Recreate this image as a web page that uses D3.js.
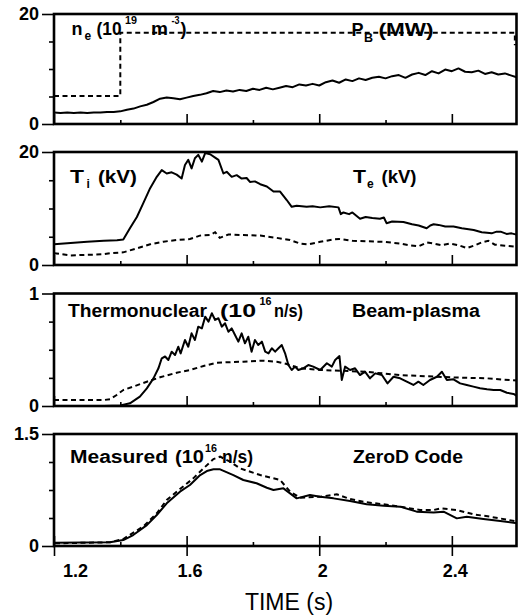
<!DOCTYPE html>
<html><head><meta charset="utf-8">
<script src="https://cdn.jsdelivr.net/npm/d3@7/dist/d3.min.js"></script>
<style>
body{margin:0;background:#fff;}
svg{display:block;}
</style></head><body>
<svg id="c" width="518" height="615"></svg>
<script>
// ---------- data ----------
const timeDomain = [1.2, 2.595];
const xMajorTicks = [1.2, 1.6, 2.0, 2.4];
const xTickLabels = ["1.2", "1.6", "2", "2.4"];
const xMinorTicks = [1.4, 1.8, 2.2];
const panelMax = [20, 20, 1, 1.5];
const yTickLabels = [["0", "20"], ["0", "20"], ["0", "1"], ["0", "1.5"]];
const xAxisTitle = "TIME (s)";

// panel 1: electron density (solid) and beam power (dashed)
const neData = [[1.20,2.1],[1.22,2.0],[1.24,2.1],[1.26,2.0],[1.28,2.1],[1.30,2.0],[1.32,2.1],[1.34,2.1],[1.36,2.2],[1.38,2.2],[1.40,2.3],[1.42,2.6],[1.44,2.8],[1.46,3.2],[1.48,3.5],[1.50,4.0],[1.52,4.6],[1.54,4.8],[1.56,4.7],[1.58,4.5],[1.60,4.8],[1.62,5.1],[1.64,5.3],[1.66,5.6],[1.68,6.0],[1.70,5.8],[1.72,6.1],[1.74,5.9],[1.76,6.2],[1.78,6.0],[1.80,6.4],[1.82,6.2],[1.84,6.6],[1.86,6.3],[1.88,6.6],[1.90,6.9],[1.92,6.7],[1.94,7.2],[1.96,7.0],[1.98,7.3],[2.00,7.0],[2.02,7.6],[2.04,7.9],[2.06,7.5],[2.08,8.1],[2.10,7.8],[2.12,8.3],[2.14,8.0],[2.16,8.4],[2.18,8.6],[2.20,8.3],[2.22,8.7],[2.24,8.9],[2.26,8.4],[2.28,9.0],[2.30,9.3],[2.32,8.9],[2.34,9.6],[2.36,9.2],[2.38,9.9],[2.40,9.6],[2.42,10.1],[2.44,9.5],[2.46,9.4],[2.48,9.7],[2.50,9.1],[2.52,9.4],[2.54,9.0],[2.56,9.2],[2.58,8.8],[2.60,8.4]];
const pbData = [[1.2,5.1],[1.4,5.1],[1.4,16.6],[2.59,16.6],[2.59,14.3]];

// panel 2: ion temperature (solid) and electron temperature (dashed)
const tiData = [[1.20,3.65],[1.25,3.9],[1.30,4.1],[1.35,4.3],[1.39,4.4],[1.409,4.5],[1.429,6.5],[1.45,8.5],[1.469,10.9],[1.49,13.6],[1.51,15.6],[1.525,16.8],[1.54,16.2],[1.555,16.4],[1.57,16.0],[1.585,15.3],[1.595,17.7],[1.605,18.6],[1.615,17.1],[1.625,18.9],[1.635,19.5],[1.646,18.3],[1.656,19.8],[1.671,19.6],[1.686,19.0],[1.696,18.6],[1.711,16.2],[1.721,16.5],[1.736,15.6],[1.751,15.9],[1.766,15.3],[1.781,15.4],[1.791,14.7],[1.806,14.8],[1.822,14.3],[1.842,13.9],[1.862,13.0],[1.882,13.0],[1.902,11.5],[1.917,10.3],[1.932,10.5],[1.962,10.3],[1.98,10.4],[2.003,10.2],[2.03,10.4],[2.058,10.2],[2.065,9.0],[2.073,9.3],[2.09,9.0],[2.10,9.3],[2.123,8.2],[2.14,8.5],[2.16,8.3],[2.183,8.2],[2.195,8.4],[2.203,7.4],[2.22,7.7],[2.254,7.6],[2.28,7.2],[2.30,7.0],[2.324,6.5],[2.335,7.0],[2.345,7.2],[2.36,7.1],[2.38,6.8],[2.405,6.8],[2.43,6.5],[2.466,6.2],[2.49,5.8],[2.506,5.7],[2.52,5.6],[2.535,5.9],[2.547,5.9],[2.565,5.5],[2.58,5.6],[2.60,5.3]];
const teData = [[1.20,2.1],[1.25,1.7],[1.30,1.8],[1.35,1.9],[1.369,2.07],[1.409,2.24],[1.45,2.95],[1.49,3.66],[1.53,4.13],[1.57,4.42],[1.61,4.6],[1.64,5.2],[1.671,5.3],[1.686,5.8],[1.70,4.8],[1.726,5.4],[1.771,5.3],[1.822,5.2],[1.872,4.8],[1.912,4.42],[1.942,3.8],[1.967,3.66],[2.003,4.1],[2.04,4.5],[2.06,4.6],[2.10,4.3],[2.14,4.2],[2.194,4.1],[2.244,3.8],[2.27,3.5],[2.30,3.3],[2.325,4.0],[2.345,3.8],[2.37,3.5],[2.395,3.8],[2.42,3.5],[2.445,3.0],[2.47,3.5],[2.49,4.0],[2.51,4.3],[2.53,3.6],[2.56,3.4],[2.60,3.2]];

// panel 3: thermonuclear (solid) and beam-plasma (dashed) neutron rate
const thermoData = [[1.20,0],[1.35,0],[1.40,0.005],[1.429,0.024],[1.459,0.083],[1.48,0.157],[1.50,0.246],[1.515,0.335],[1.525,0.424],[1.535,0.44],[1.545,0.409],[1.555,0.483],[1.565,0.453],[1.575,0.527],[1.582,0.468],[1.595,0.587],[1.605,0.527],[1.615,0.646],[1.625,0.587],[1.635,0.705],[1.646,0.69],[1.656,0.794],[1.666,0.75],[1.676,0.824],[1.686,0.765],[1.696,0.78],[1.706,0.705],[1.716,0.735],[1.726,0.66],[1.736,0.69],[1.746,0.631],[1.756,0.572],[1.766,0.646],[1.776,0.557],[1.786,0.616],[1.796,0.483],[1.806,0.587],[1.816,0.542],[1.827,0.572],[1.837,0.483],[1.847,0.468],[1.857,0.513],[1.867,0.483],[1.877,0.513],[1.887,0.542],[1.897,0.468],[1.907,0.364],[1.917,0.32],[1.927,0.35],[1.937,0.32],[1.952,0.335],[1.967,0.364],[1.982,0.35],[2.003,0.32],[2.023,0.38],[2.038,0.35],[2.048,0.409],[2.061,0.444],[2.068,0.231],[2.078,0.35],[2.093,0.32],[2.108,0.335],[2.123,0.275],[2.138,0.305],[2.153,0.246],[2.169,0.29],[2.189,0.275],[2.206,0.201],[2.224,0.26],[2.244,0.246],[2.264,0.216],[2.284,0.187],[2.299,0.216],[2.314,0.187],[2.334,0.231],[2.355,0.26],[2.37,0.305],[2.385,0.231],[2.405,0.237],[2.425,0.201],[2.445,0.187],[2.465,0.172],[2.485,0.157],[2.506,0.148],[2.526,0.142],[2.546,0.142],[2.566,0.118],[2.586,0.107],[2.60,0.083]];
const beamData = [[1.20,0.053],[1.35,0.053],[1.369,0.06],[1.389,0.098],[1.409,0.142],[1.439,0.172],[1.48,0.216],[1.52,0.255],[1.57,0.296],[1.61,0.32],[1.651,0.356],[1.691,0.385],[1.771,0.394],[1.832,0.403],[1.872,0.394],[1.902,0.373],[1.932,0.344],[1.942,0.335],[2.003,0.32],[2.138,0.305],[2.244,0.275],[2.395,0.255],[2.506,0.246],[2.60,0.225]];

// panel 4: measured (solid) and ZeroD code (dashed) neutron rate
const measuredData = [[1.203,0.045],[1.369,0.05],[1.409,0.08],[1.439,0.147],[1.48,0.28],[1.51,0.415],[1.54,0.571],[1.58,0.728],[1.61,0.817],[1.641,0.95],[1.661,1.004],[1.681,1.027],[1.701,1.027],[1.741,0.95],[1.771,0.884],[1.811,0.84],[1.842,0.78],[1.862,0.75],[1.892,0.772],[1.932,0.638],[1.972,0.683],[2.003,0.66],[2.043,0.638],[2.093,0.603],[2.143,0.558],[2.194,0.54],[2.244,0.527],[2.294,0.46],[2.345,0.45],[2.375,0.46],[2.415,0.37],[2.445,0.393],[2.495,0.362],[2.546,0.335],[2.60,0.304]];
const zeroDData = [[1.203,0.036],[1.369,0.05],[1.409,0.094],[1.469,0.26],[1.51,0.4375],[1.54,0.616],[1.58,0.763],[1.62,0.906],[1.651,1.04],[1.681,1.165],[1.701,1.196],[1.731,1.13],[1.761,1.04],[1.822,0.95],[1.882,0.884],[1.912,0.728],[1.942,0.647],[2.003,0.66],[2.053,0.692],[2.093,0.63],[2.143,0.585],[2.194,0.558],[2.244,0.527],[2.304,0.482],[2.345,0.482],[2.365,0.504],[2.415,0.482],[2.465,0.424],[2.515,0.393],[2.60,0.326]];

// ---------- layout ----------
const svg = d3.select("#c");
const X0 = 54, X1 = 516.5;
const x = d3.scaleLinear().domain(timeDomain).range([X0, X1]);
const panels = [
  {top: 14, bottom: 124, solid: neData, dashed: pbData},
  {top: 152, bottom: 265, solid: tiData, dashed: teData},
  {top: 293.5, bottom: 406, solid: thermoData, dashed: beamData},
  {top: 434, bottom: 546, solid: measuredData, dashed: zeroDData}
];
const tickFont = "'Liberation Sans', Arial, sans-serif";

panels.forEach((p, i) => {
  const max = panelMax[i];
  const y = d3.scaleLinear().domain([0, max]).range([p.bottom, p.top]);
  const g = svg.append("g");
  const clipId = "clip" + i;
  svg.append("clipPath").attr("id", clipId).append("rect")
    .attr("x", X0).attr("y", p.top).attr("width", X1 - X0).attr("height", p.bottom - p.top);

  // y axis major ticks + labels
  g.append("g").attr("transform", `translate(${X0},0)`)
    .call(d3.axisLeft(y).tickValues([0, max]).tickSize(12).tickPadding(3)
      .tickFormat((d, k) => yTickLabels[i][k]));
  // y minor ticks
  g.append("g").attr("transform", `translate(${X0},0)`)
    .call(d3.axisLeft(y).tickValues([max / 4, max / 2, 3 * max / 4]).tickSize(5).tickFormat(""));

  // x ticks inside (upward)
  g.append("g").attr("transform", `translate(0,${p.bottom})`)
    .call(d3.axisTop(x).tickValues(xMajorTicks).tickSize(10).tickFormat(""));
  g.append("g").attr("transform", `translate(0,${p.bottom})`)
    .call(d3.axisTop(x).tickValues(xMinorTicks).tickSize(4).tickFormat(""));
  if (i === 3) {
    g.append("g").attr("class", "xb").attr("transform", `translate(0,${p.bottom})`)
      .call(d3.axisBottom(x).tickValues(xMajorTicks).tickSize(10).tickPadding(8)
        .tickFormat((d, k) => xTickLabels[k]));
  }
  g.selectAll(".domain").remove();
  g.selectAll(".tick line").attr("stroke", "#000").attr("stroke-width", 1.6);
  g.selectAll(".tick text").attr("font-family", tickFont).attr("font-weight", "bold")
    .attr("font-size", 18).attr("fill", "#000");

  // series
  const line = d3.line().x(d => x(d[0])).y(d => y(d[1]));
  const lg = svg.append("g").attr("clip-path", `url(#${clipId})`);
  lg.append("path").datum(p.dashed).attr("d", line).attr("fill", "none")
    .attr("stroke", "#000").attr("stroke-width", 2).attr("stroke-dasharray", "5,3.5");
  lg.append("path").datum(p.solid).attr("d", line).attr("fill", "none")
    .attr("stroke", "#000").attr("stroke-width", 2).attr("stroke-linejoin", "round");

  // frame
  svg.append("rect").attr("x", X0).attr("y", p.top).attr("width", X1 - X0).attr("height", p.bottom - p.top)
    .attr("fill", "none").attr("stroke", "#000").attr("stroke-width", 2.6);
});

// shift x labels to sit as in the original
svg.selectAll(".xb .tick text").attr("dx", (d, k) => k === 0 ? 21 : 3);

// axis title
svg.append("text").attr("x", 289).attr("y", 610).attr("text-anchor", "middle")
  .attr("font-family", tickFont).attr("font-size", 23).attr("fill", "#000").text(xAxisTitle);

// ---------- in-panel labels: [text, x, baseline y, font size, width or 0] ----------
const labelParts = [
  // panel 1
  ["n", 71.5, 35, 18, 0], ["e", 84.5, 39.5, 12, 0], ["(10", 96.5, 35, 18, 25], ["19", 125, 23.5, 11, 12],
  ["m", 151, 35, 18, 17], ["-3", 171.5, 23.5, 11, 8], [")", 180.5, 35, 18, 0],
  ["P", 351.5, 36, 18, 0], ["B", 364, 41.5, 12, 9], ["(MW)", 378.5, 36, 18, 55],
  // panel 2
  ["T", 70, 183.3, 18, 14], ["i", 86.5, 188.3, 12, 0], ["(kV)", 98, 183.3, 18, 39],
  ["T", 353, 183.3, 18, 13], ["e", 367, 188.3, 12, 0], ["(kV)", 381.5, 183.3, 18, 35],
  // panel 3
  ["Thermonuclear", 68, 316.7, 18, 139], ["(10", 220, 316.7, 18, 36], ["16", 259.5, 305, 11, 12],
  ["n/s)", 274, 316.7, 18, 29], ["Beam-plasma", 352, 316.7, 18, 128],
  // panel 4
  ["Measured", 70, 462.7, 18, 98], ["(10", 175, 462.7, 18, 29], ["16", 205, 452.3, 11, 12],
  ["n/s)", 222, 462.7, 18, 31], ["ZeroD Code", 353, 462.7, 18, 110]
];
svg.append("g").selectAll("text").data(labelParts).join("text")
  .attr("x", d => d[1]).attr("y", d => d[2]).attr("font-size", d => d[3])
  .attr("font-family", tickFont).attr("font-weight", "bold").attr("fill", "#000")
  .each(function (d) {
    if (d[4]) d3.select(this).attr("textLength", d[4]).attr("lengthAdjust", "spacingAndGlyphs");
  })
  .text(d => d[0]);
</script>
</body></html>
